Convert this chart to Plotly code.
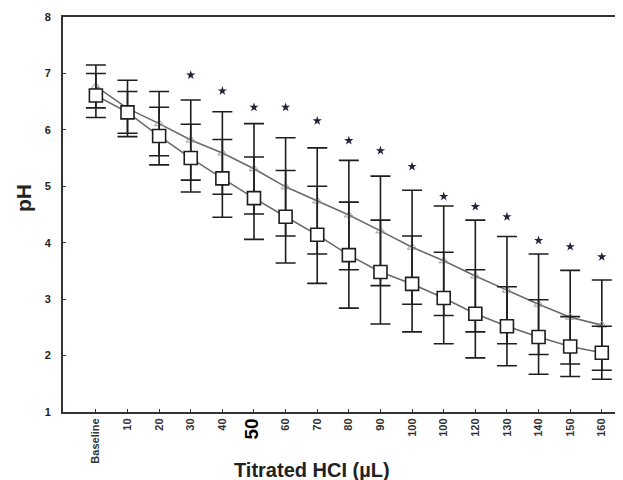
import plotly.graph_objects as go

categories = ["Baseline", "10", "20", "30", "40", "50", "60", "70", "80", "90",
              "100", "100", "120", "130", "140", "150", "160"]

# lower series (open squares)
ph_square = [6.61, 6.31, 5.89, 5.50, 5.14, 4.79, 4.46, 4.14, 3.78, 3.48,
             3.27, 3.02, 2.74, 2.52, 2.33, 2.16, 2.05]
err_square = [0.39, 0.37, 0.51, 0.60, 0.69, 0.73, 0.82, 0.86, 0.94, 0.92,
              0.85, 0.81, 0.78, 0.70, 0.66, 0.53, 0.47]

# upper series (open triangles)
ph_triangle = [6.77, 6.38, 6.11, 5.82, 5.59, 5.31, 4.99, 4.74, 4.49, 4.21,
               3.92, 3.68, 3.41, 3.16, 2.91, 2.68, 2.54]
err_triangle = [0.38, 0.50, 0.57, 0.71, 0.73, 0.80, 0.87, 0.94, 0.97, 0.97,
                1.01, 0.97, 0.99, 0.95, 0.89, 0.83, 0.80]

# significance markers
star_idx = [3, 4, 5, 6, 7, 8, 9, 10, 11, 12, 13, 14, 15, 16]
star_ph = [6.97, 6.69, 6.40, 6.40, 6.16, 5.81, 5.63, 5.35, 4.82, 4.64,
           4.46, 4.04, 3.93, 3.75]

y_ticks = [1, 2, 3, 4, 5, 6, 7, 8]

x = list(range(len(categories)))
tick_text = [c if i != 5 else "<span style='font-size:19px;color:#000'>%s</span>" % c
             for i, c in enumerate(categories)]

# figure is drawn inside the page body (8px default margin), so sizes are offset
W, H = 615, 472
L, R, T, B = 55, 0, 9, 68
PW, PH = W - L - R, H - T - B

fig = go.Figure()

fig.add_trace(go.Scatter(
    x=x, y=ph_triangle, mode="lines+markers",
    line=dict(color="#6a6a6a", width=1.6),
    marker=dict(symbol="triangle-up-open", size=8, color="#9a9a9a", line=dict(width=1)),
    error_y=dict(type="data", array=err_triangle, color="#1e1e1e", thickness=1.6, width=10),
    showlegend=False, hoverinfo="skip"))

fig.add_trace(go.Scatter(
    x=x, y=ph_square, mode="lines+markers",
    line=dict(color="#6a6a6a", width=1.6),
    marker=dict(symbol="square", size=13, color="white", line=dict(color="#1e1e1e", width=1.6)),
    error_y=dict(type="data", array=err_square, color="#1e1e1e", thickness=1.6, width=10),
    showlegend=False, hoverinfo="skip"))

fig.add_trace(go.Scatter(
    x=star_idx, y=star_ph, mode="markers",
    marker=dict(symbol="star", size=7, color="#22223a"),
    showlegend=False, hoverinfo="skip"))

fig.update_layout(
    width=W, height=H,
    margin=dict(l=L, r=R, t=T, b=B),
    plot_bgcolor="white", paper_bgcolor="white",
    font=dict(family="Liberation Sans, Arial, sans-serif", color="#222"),
)

fig.update_xaxes(
    range=[-1.04, 16.67], tickmode="array", tickvals=x, ticktext=tick_text,
    tickangle=-90, tickfont=dict(size=11, weight="bold", color="#333"),
    ticks="inside", ticklen=3, tickcolor="#333", tickwidth=1,
    showline=True, linecolor="#333", linewidth=2, mirror=True,
    showgrid=False, zeroline=False, automargin=False,
)
fig.update_yaxes(
    range=[1, 8], tickmode="array", tickvals=y_ticks,
    tickfont=dict(size=11, weight="bold", color="#222"),
    ticks="inside", ticklen=3, tickcolor="#333", tickwidth=1,
    ticklabelstandoff=8,
    showline=True, linecolor="#333", linewidth=2,
    showgrid=False, zeroline=False, automargin=False,
)

fig.add_annotation(text="<b>Titrated HCI (µL)</b>", xref="paper", yref="paper",
                   x=(304 - L) / PW, y=-(462 - (T + PH)) / PH, xanchor="center", yanchor="middle",
                   showarrow=False, font=dict(size=20, color="#222"))
fig.add_annotation(text="<b>pH</b>", xref="paper", yref="paper",
                   x=-(L - 15) / PW, y=(T + PH - 190) / PH, xanchor="center", yanchor="middle",
                   textangle=-90, showarrow=False, font=dict(size=21, color="#222"))

fig.write_html("out.html")
